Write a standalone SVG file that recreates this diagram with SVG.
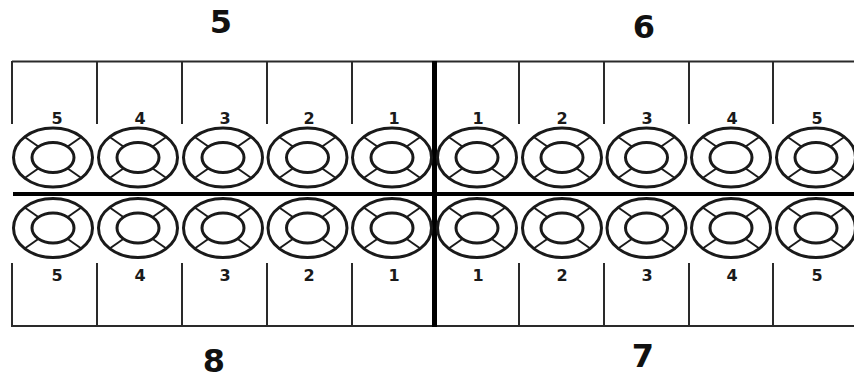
<svg xmlns="http://www.w3.org/2000/svg" xmlns:xlink="http://www.w3.org/1999/xlink" width="854" height="379" viewBox="0 0 854 379">
<style>
.ring-o{fill:none;stroke:#1a1a1a;stroke-width:3}
.ring-i{fill:none;stroke:#1a1a1a;stroke-width:3}
.spoke{stroke:#1a1a1a;stroke-width:2}
.thin{stroke:#2a2a2a;stroke-width:2;fill:none}
.thick{stroke:#000;fill:none}
.lbl{font-family:"DejaVu Sans",sans-serif;font-weight:bold;font-size:16px;fill:#1a1a1a;text-anchor:middle}
.big{font-family:"DejaVu Sans",sans-serif;font-weight:bold;font-size:32px;fill:#111;text-anchor:middle}
</style>
<defs>
<g id="ring">
<ellipse class="ring-o" cx="0" cy="0" rx="39.5" ry="29.5"/>
<ellipse class="ring-i" cx="0" cy="0" rx="21" ry="15"/>
<line class="spoke" x1="-14" y1="-10.5" x2="-29" y2="-21"/>
<line class="spoke" x1="14" y1="-10.5" x2="29" y2="-21"/>
<line class="spoke" x1="-14" y1="10.5" x2="-29" y2="21"/>
<line class="spoke" x1="14" y1="10.5" x2="29" y2="21"/>
</g>
</defs>
<rect width="854" height="379" fill="#fff"/>

<g id="connectors">
<line class="thin" x1="12" y1="61.5" x2="854" y2="61.5"/>
<line class="thin" x1="12" y1="326" x2="854" y2="326"/>
<line class="thin" x1="12" y1="61" x2="12" y2="124"/>
<line class="thin" x1="97" y1="61" x2="97" y2="124"/>
<line class="thin" x1="182" y1="61" x2="182" y2="124"/>
<line class="thin" x1="267" y1="61" x2="267" y2="124"/>
<line class="thin" x1="352" y1="61" x2="352" y2="124"/>
<line class="thin" x1="519" y1="61" x2="519" y2="124"/>
<line class="thin" x1="604" y1="61" x2="604" y2="124"/>
<line class="thin" x1="689" y1="61" x2="689" y2="124"/>
<line class="thin" x1="773" y1="61" x2="773" y2="124"/>
<line class="thin" x1="12" y1="263" x2="12" y2="327"/>
<line class="thin" x1="97" y1="263" x2="97" y2="327"/>
<line class="thin" x1="182" y1="263" x2="182" y2="327"/>
<line class="thin" x1="267" y1="263" x2="267" y2="327"/>
<line class="thin" x1="352" y1="263" x2="352" y2="327"/>
<line class="thin" x1="519" y1="263" x2="519" y2="327"/>
<line class="thin" x1="604" y1="263" x2="604" y2="327"/>
<line class="thin" x1="689" y1="263" x2="689" y2="327"/>
<line class="thin" x1="773" y1="263" x2="773" y2="327"/>
<line class="thick" x1="13" y1="194" x2="854" y2="194" stroke-width="4"/>
<line class="thick" x1="434.5" y1="61" x2="434.5" y2="327" stroke-width="5"/>
</g>

<g id="zone-5"><text class="big" x="221" y="33">5</text></g>
<g id="zone-6"><text class="big" x="644" y="38">6</text></g>
<g id="zone-8"><text class="big" x="214" y="372">8</text></g>
<g id="zone-7"><text class="big" x="643" y="367">7</text></g>

<g id="tl5"><use xlink:href="#ring" x="53" y="157.5"/><text class="lbl" x="57" y="124">5</text></g>
<g id="tl4"><use xlink:href="#ring" x="138" y="157.5"/><text class="lbl" x="140" y="124">4</text></g>
<g id="tl3"><use xlink:href="#ring" x="223" y="157.5"/><text class="lbl" x="225" y="124">3</text></g>
<g id="tl2"><use xlink:href="#ring" x="307.5" y="157.5"/><text class="lbl" x="309" y="124">2</text></g>
<g id="tl1"><use xlink:href="#ring" x="392" y="157.5"/><text class="lbl" x="394" y="124">1</text></g>
<g id="tr1"><use xlink:href="#ring" x="477" y="157.5"/><text class="lbl" x="478" y="124">1</text></g>
<g id="tr2"><use xlink:href="#ring" x="562" y="157.5"/><text class="lbl" x="562" y="124">2</text></g>
<g id="tr3"><use xlink:href="#ring" x="646.5" y="157.5"/><text class="lbl" x="647" y="124">3</text></g>
<g id="tr4"><use xlink:href="#ring" x="731" y="157.5"/><text class="lbl" x="732" y="124">4</text></g>
<g id="tr5"><use xlink:href="#ring" x="816" y="157.5"/><text class="lbl" x="817" y="124">5</text></g>

<g id="bl5"><use xlink:href="#ring" x="53" y="228"/><text class="lbl" x="57" y="281">5</text></g>
<g id="bl4"><use xlink:href="#ring" x="138" y="228"/><text class="lbl" x="140" y="281">4</text></g>
<g id="bl3"><use xlink:href="#ring" x="223" y="228"/><text class="lbl" x="225" y="281">3</text></g>
<g id="bl2"><use xlink:href="#ring" x="307.5" y="228"/><text class="lbl" x="309" y="281">2</text></g>
<g id="bl1"><use xlink:href="#ring" x="392" y="228"/><text class="lbl" x="394" y="281">1</text></g>
<g id="br1"><use xlink:href="#ring" x="477" y="228"/><text class="lbl" x="478" y="281">1</text></g>
<g id="br2"><use xlink:href="#ring" x="562" y="228"/><text class="lbl" x="562" y="281">2</text></g>
<g id="br3"><use xlink:href="#ring" x="646.5" y="228"/><text class="lbl" x="647" y="281">3</text></g>
<g id="br4"><use xlink:href="#ring" x="731" y="228"/><text class="lbl" x="732" y="281">4</text></g>
<g id="br5"><use xlink:href="#ring" x="816" y="228"/><text class="lbl" x="817" y="281">5</text></g>
</svg>
